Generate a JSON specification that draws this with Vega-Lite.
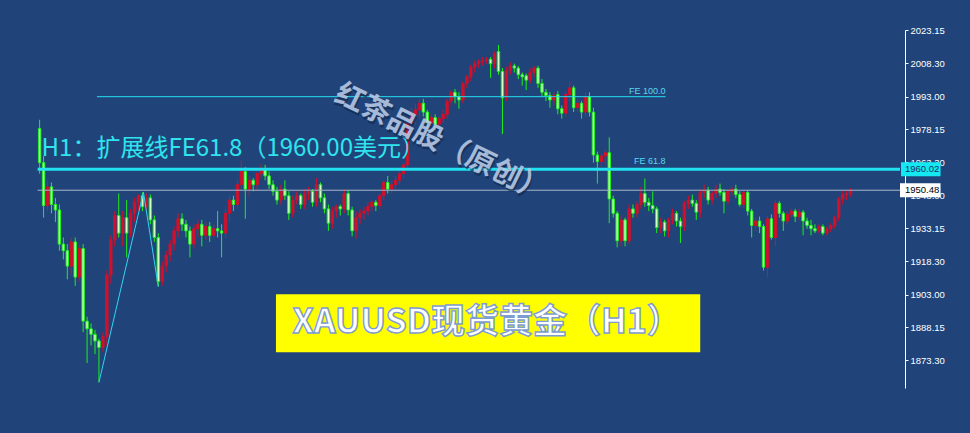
{
"$schema": "https://vega.github.io/schema/vega-lite/v6.json",
"width": 905, "height": 358,
"autosize": {"type": "none"},
"padding": {"left": 0, "top": 30, "right": 65, "bottom": 45},
"background": "#204479",
"config": {"view": {"stroke": null}, "font": "Liberation Sans"},
"datasets": {
"candles": [
{"i":0,"o":1978.5,"h":1982.5,"l":1958,"c":1963},
{"i":1,"o":1963,"h":1966,"l":1938,"c":1943.5},
{"i":2,"o":1943.5,"h":1955,"l":1941,"c":1952},
{"i":3,"o":1952,"h":1954,"l":1940,"c":1944},
{"i":4,"o":1944,"h":1947,"l":1936,"c":1941.5},
{"i":5,"o":1941.5,"h":1944,"l":1923,"c":1926},
{"i":6,"o":1926,"h":1929,"l":1919,"c":1923},
{"i":7,"o":1923,"h":1926,"l":1910,"c":1916},
{"i":8,"o":1916,"h":1929,"l":1912,"c":1927},
{"i":9,"o":1927,"h":1929,"l":1907,"c":1911},
{"i":10,"o":1911,"h":1926,"l":1909,"c":1924},
{"i":11,"o":1924,"h":1926,"l":1886,"c":1891},
{"i":12,"o":1891,"h":1893,"l":1872,"c":1887.5},
{"i":13,"o":1887.5,"h":1890,"l":1880,"c":1885},
{"i":14,"o":1885,"h":1887,"l":1876,"c":1882},
{"i":15,"o":1882,"h":1883,"l":1863.2,"c":1879},
{"i":16,"o":1879,"h":1886,"l":1877,"c":1884},
{"i":17,"o":1884,"h":1914,"l":1880,"c":1912},
{"i":18,"o":1912,"h":1930,"l":1908,"c":1928},
{"i":19,"o":1928,"h":1941,"l":1925,"c":1939},
{"i":20,"o":1939,"h":1949,"l":1929,"c":1931},
{"i":21,"o":1931,"h":1941,"l":1925,"c":1938},
{"i":22,"o":1938,"h":1946,"l":1920,"c":1931},
{"i":23,"o":1931,"h":1942,"l":1929,"c":1940},
{"i":24,"o":1940,"h":1947,"l":1936,"c":1945},
{"i":25,"o":1945,"h":1948.5,"l":1941,"c":1948},
{"i":26,"o":1948,"h":1949.5,"l":1941,"c":1943},
{"i":27,"o":1943,"h":1949,"l":1940,"c":1947},
{"i":28,"o":1947,"h":1948.5,"l":1935,"c":1937},
{"i":29,"o":1937,"h":1939,"l":1927,"c":1929},
{"i":30,"o":1929,"h":1931,"l":1906.7,"c":1909},
{"i":31,"o":1909,"h":1918,"l":1907,"c":1916},
{"i":32,"o":1916,"h":1923,"l":1913,"c":1921},
{"i":33,"o":1921,"h":1928,"l":1918,"c":1926},
{"i":34,"o":1926,"h":1934,"l":1923,"c":1932},
{"i":35,"o":1932,"h":1940,"l":1929,"c":1937.5},
{"i":36,"o":1937.5,"h":1940,"l":1932,"c":1935},
{"i":37,"o":1935,"h":1937,"l":1929,"c":1932},
{"i":38,"o":1932,"h":1934,"l":1920,"c":1926},
{"i":39,"o":1926,"h":1935,"l":1924,"c":1933},
{"i":40,"o":1933,"h":1937,"l":1929,"c":1935},
{"i":41,"o":1935,"h":1937,"l":1925,"c":1930},
{"i":42,"o":1930,"h":1936,"l":1928,"c":1934},
{"i":43,"o":1934,"h":1936,"l":1927,"c":1930},
{"i":44,"o":1930,"h":1935,"l":1929,"c":1933},
{"i":45,"o":1933,"h":1941,"l":1929,"c":1932},
{"i":46,"o":1932,"h":1935,"l":1920,"c":1931},
{"i":47,"o":1931,"h":1942,"l":1929,"c":1940},
{"i":48,"o":1940,"h":1948,"l":1936,"c":1946},
{"i":49,"o":1946,"h":1948,"l":1941,"c":1944},
{"i":50,"o":1944,"h":1955,"l":1942,"c":1953},
{"i":51,"o":1953,"h":1964,"l":1950,"c":1959},
{"i":52,"o":1959,"h":1961,"l":1937.5,"c":1951},
{"i":53,"o":1951,"h":1957,"l":1948,"c":1955},
{"i":54,"o":1955,"h":1956,"l":1950,"c":1953},
{"i":55,"o":1953,"h":1959,"l":1950,"c":1958},
{"i":56,"o":1958,"h":1962.5,"l":1956,"c":1960},
{"i":57,"o":1960,"h":1962,"l":1955,"c":1957},
{"i":58,"o":1957,"h":1959,"l":1951,"c":1953},
{"i":59,"o":1953,"h":1955,"l":1948,"c":1950},
{"i":60,"o":1950,"h":1952,"l":1944,"c":1946},
{"i":61,"o":1946,"h":1953,"l":1944,"c":1951},
{"i":62,"o":1951,"h":1955,"l":1946,"c":1948},
{"i":63,"o":1948,"h":1950,"l":1937,"c":1940},
{"i":64,"o":1940,"h":1948,"l":1938,"c":1946},
{"i":65,"o":1946,"h":1950,"l":1944,"c":1948},
{"i":66,"o":1948,"h":1949,"l":1942,"c":1944},
{"i":67,"o":1944,"h":1951,"l":1942,"c":1949},
{"i":68,"o":1949,"h":1952,"l":1946,"c":1950},
{"i":69,"o":1950,"h":1951,"l":1943,"c":1945},
{"i":70,"o":1945,"h":1956,"l":1943,"c":1953},
{"i":71,"o":1953,"h":1954,"l":1945,"c":1947},
{"i":72,"o":1947,"h":1949,"l":1940,"c":1942},
{"i":73,"o":1942,"h":1944,"l":1932,"c":1935.5},
{"i":74,"o":1935.5,"h":1943,"l":1933,"c":1941},
{"i":75,"o":1941,"h":1944,"l":1938,"c":1943},
{"i":76,"o":1943,"h":1944,"l":1939,"c":1942},
{"i":77,"o":1942,"h":1951,"l":1940,"c":1949},
{"i":78,"o":1949,"h":1950.5,"l":1939,"c":1941.5},
{"i":79,"o":1941.5,"h":1943,"l":1929.5,"c":1932},
{"i":80,"o":1932,"h":1941,"l":1928.5,"c":1938},
{"i":81,"o":1938,"h":1942,"l":1935,"c":1940},
{"i":82,"o":1940,"h":1943,"l":1937,"c":1941},
{"i":83,"o":1941,"h":1945,"l":1939,"c":1943},
{"i":84,"o":1943,"h":1946,"l":1941,"c":1945},
{"i":85,"o":1945,"h":1946,"l":1941,"c":1943.5},
{"i":86,"o":1943.5,"h":1949,"l":1942,"c":1948},
{"i":87,"o":1948,"h":1955,"l":1946,"c":1954},
{"i":88,"o":1954,"h":1957,"l":1949,"c":1951},
{"i":89,"o":1951,"h":1955,"l":1949,"c":1953},
{"i":90,"o":1953,"h":1957,"l":1951,"c":1955},
{"i":91,"o":1955,"h":1959.5,"l":1953,"c":1958},
{"i":92,"o":1958,"h":1963,"l":1956,"c":1962},
{"i":93,"o":1962,"h":1983,"l":1960,"c":1981},
{"i":94,"o":1981,"h":1988,"l":1976,"c":1985},
{"i":95,"o":1985,"h":1990,"l":1980,"c":1987},
{"i":96,"o":1987,"h":1992,"l":1983,"c":1990},
{"i":97,"o":1990,"h":1992,"l":1984,"c":1986},
{"i":98,"o":1986,"h":1987,"l":1979,"c":1981},
{"i":99,"o":1981,"h":1985,"l":1979,"c":1983.5},
{"i":100,"o":1983.5,"h":1985,"l":1978,"c":1980.5},
{"i":101,"o":1980.5,"h":1984,"l":1979,"c":1983},
{"i":102,"o":1983,"h":1987,"l":1981,"c":1985},
{"i":103,"o":1985,"h":1992,"l":1983,"c":1991},
{"i":104,"o":1991,"h":1996,"l":1989,"c":1995},
{"i":105,"o":1995,"h":1996.5,"l":1990,"c":1993},
{"i":106,"o":1993,"h":1995,"l":1987.5,"c":1991.5},
{"i":107,"o":1991.5,"h":2000,"l":1990,"c":1999},
{"i":108,"o":1999,"h":2003,"l":1997,"c":2002},
{"i":109,"o":2002,"h":2007.5,"l":2000,"c":2006.5},
{"i":110,"o":2006.5,"h":2009.5,"l":2004,"c":2008},
{"i":111,"o":2008,"h":2010,"l":2006,"c":2009},
{"i":112,"o":2009,"h":2011,"l":2007,"c":2009.5},
{"i":113,"o":2009.5,"h":2011,"l":2008,"c":2010},
{"i":114,"o":2010,"h":2011,"l":2001.5,"c":2008},
{"i":115,"o":2008,"h":2013.5,"l":2006,"c":2012.5},
{"i":116,"o":2013.5,"h":2016.5,"l":2003,"c":2004.5},
{"i":117,"o":2004.5,"h":2006,"l":1976,"c":1992.5},
{"i":118,"o":1992.5,"h":2006.5,"l":1991,"c":2005},
{"i":119,"o":2005,"h":2008.5,"l":2003,"c":2007},
{"i":120,"o":2007,"h":2008,"l":2004,"c":2006},
{"i":121,"o":2006,"h":2007,"l":2001,"c":2003},
{"i":122,"o":2003,"h":2004,"l":1998,"c":2002},
{"i":123,"o":2002.5,"h":2003.5,"l":1996,"c":2000.5},
{"i":124,"o":2000.5,"h":2006,"l":1999,"c":2004},
{"i":125,"o":2004,"h":2007,"l":2002,"c":2006},
{"i":126,"o":2006,"h":2007,"l":1997,"c":1999},
{"i":127,"o":1999,"h":2001,"l":1993,"c":1995},
{"i":128,"o":1995,"h":1996.5,"l":1991,"c":1993.5},
{"i":129,"o":1993.5,"h":1995,"l":1988,"c":1991.5},
{"i":130,"o":1991.5,"h":1995,"l":1989,"c":1993.5},
{"i":131,"o":1994,"h":1995.5,"l":1985,"c":1987.5},
{"i":132,"o":1987.5,"h":1989,"l":1983,"c":1985.5},
{"i":133,"o":1985.5,"h":1995,"l":1984,"c":1994},
{"i":134,"o":1994,"h":2000,"l":1991,"c":1997},
{"i":135,"o":1997,"h":1998,"l":1986,"c":1988},
{"i":136,"o":1988,"h":1992,"l":1986,"c":1990},
{"i":137,"o":1990,"h":1991,"l":1983,"c":1986},
{"i":138,"o":1986,"h":1995,"l":1984,"c":1993},
{"i":139,"o":1993,"h":1995,"l":1984,"c":1986},
{"i":140,"o":1986,"h":1988,"l":1963,"c":1966.5},
{"i":141,"o":1966.5,"h":1968,"l":1953.5,"c":1963.5},
{"i":142,"o":1963.5,"h":1967,"l":1961,"c":1966},
{"i":143,"o":1966,"h":1969,"l":1962,"c":1967.5},
{"i":144,"o":1967.5,"h":1974.5,"l":1935.5,"c":1946.5},
{"i":145,"o":1946.5,"h":1948,"l":1938,"c":1940},
{"i":146,"o":1940,"h":1941,"l":1924.5,"c":1927.5},
{"i":147,"o":1927.5,"h":1939,"l":1925,"c":1937},
{"i":148,"o":1937,"h":1938,"l":1925,"c":1927.5},
{"i":149,"o":1927.5,"h":1944,"l":1926,"c":1942},
{"i":150,"o":1942,"h":1944,"l":1938,"c":1940},
{"i":151,"o":1940,"h":1945.5,"l":1938,"c":1944},
{"i":152,"o":1944,"h":1952,"l":1942,"c":1949},
{"i":153,"o":1949,"h":1955.8,"l":1943,"c":1945},
{"i":154,"o":1945,"h":1947,"l":1941,"c":1943.5},
{"i":155,"o":1943.5,"h":1950,"l":1940,"c":1942},
{"i":156,"o":1942,"h":1943,"l":1931,"c":1933.5},
{"i":157,"o":1933.5,"h":1938,"l":1931,"c":1936},
{"i":158,"o":1936,"h":1937,"l":1929.5,"c":1932},
{"i":159,"o":1932,"h":1938,"l":1929,"c":1937},
{"i":160,"o":1937,"h":1942,"l":1935,"c":1940},
{"i":161,"o":1940,"h":1941,"l":1934,"c":1936.5},
{"i":162,"o":1936.5,"h":1938,"l":1926.5,"c":1934},
{"i":163,"o":1934,"h":1945.5,"l":1932,"c":1944.5},
{"i":164,"o":1944.5,"h":1948,"l":1942,"c":1946},
{"i":165,"o":1946,"h":1948.5,"l":1943,"c":1944.5},
{"i":166,"o":1944.5,"h":1946,"l":1937,"c":1940.5},
{"i":167,"o":1940.5,"h":1951,"l":1938,"c":1949.5},
{"i":168,"o":1949.5,"h":1953,"l":1947,"c":1950.5},
{"i":169,"o":1950.5,"h":1952,"l":1944,"c":1946},
{"i":170,"o":1946,"h":1950,"l":1944,"c":1949},
{"i":171,"o":1949,"h":1953,"l":1947,"c":1951},
{"i":172,"o":1951,"h":1953.5,"l":1948,"c":1949.5},
{"i":173,"o":1949.5,"h":1951,"l":1940,"c":1945.5},
{"i":174,"o":1945.5,"h":1951,"l":1944,"c":1950},
{"i":175,"o":1950,"h":1952,"l":1948,"c":1951},
{"i":176,"o":1951,"h":1953,"l":1947,"c":1948.5},
{"i":177,"o":1948.5,"h":1950,"l":1943,"c":1944},
{"i":178,"o":1944,"h":1950.5,"l":1942,"c":1949.5},
{"i":179,"o":1949.5,"h":1950.5,"l":1939,"c":1941},
{"i":180,"o":1941,"h":1942,"l":1929,"c":1934.5},
{"i":181,"o":1934.5,"h":1938,"l":1932,"c":1936.5},
{"i":182,"o":1936.5,"h":1938.5,"l":1931,"c":1934},
{"i":183,"o":1934,"h":1935,"l":1914,"c":1915.5},
{"i":184,"o":1915.5,"h":1939,"l":1911,"c":1937.5},
{"i":185,"o":1937.5,"h":1939.5,"l":1928,"c":1929},
{"i":186,"o":1929,"h":1946,"l":1925,"c":1944.5},
{"i":187,"o":1944.5,"h":1945.5,"l":1938,"c":1940},
{"i":188,"o":1940,"h":1941,"l":1932,"c":1936.5},
{"i":189,"o":1936.5,"h":1941,"l":1935,"c":1939.5},
{"i":190,"o":1939.5,"h":1942,"l":1938,"c":1941},
{"i":191,"o":1941,"h":1942,"l":1936,"c":1938.5},
{"i":192,"o":1938.5,"h":1942,"l":1937,"c":1940.5},
{"i":193,"o":1940.5,"h":1941.5,"l":1930,"c":1936.5},
{"i":194,"o":1936.5,"h":1938,"l":1933,"c":1934.5},
{"i":195,"o":1934.5,"h":1937,"l":1930,"c":1933},
{"i":196,"o":1933,"h":1935,"l":1931,"c":1932},
{"i":197,"o":1932,"h":1935,"l":1931,"c":1934},
{"i":198,"o":1934,"h":1935,"l":1930,"c":1931},
{"i":199,"o":1931,"h":1934,"l":1930,"c":1933},
{"i":200,"o":1933,"h":1935.5,"l":1931.5,"c":1934.5},
{"i":201,"o":1934.5,"h":1939,"l":1933,"c":1938},
{"i":202,"o":1938,"h":1947.5,"l":1936.5,"c":1946.5},
{"i":203,"o":1946.5,"h":1950,"l":1944,"c":1948.5},
{"i":204,"o":1948.5,"h":1950.5,"l":1946,"c":1949},
{"i":205,"o":1949,"h":1951.5,"l":1947.5,"c":1950.48}
],
"fe618": [{"x1": -0.5, "x2": 217.5, "p": 1960.02, "label": "FE 61.8", "lx": 158.25}],
"fe100": [{"x1": 14.5, "x2": 158.25, "p": 1993.0, "label": "FE 100.0", "lx": 158.25}],
"bid": [{"x1": -0.5, "x2": 217.5, "p": 1950.48}],
"fetool": [{"i": 15, "p": 1863.2}, {"i": 26.25, "p": 1949.53}, {"i": 30, "p": 1906.67}],
"note": [{"i": 0.5, "p": 1969.4, "t": "H1：扩展线FE61.8（1960.00美元）"}],
"mark": [{"i": 101.5, "p": 1972.0, "t": "红茶品股（原创）"}],
"box": [{"x1": 59.75, "x2": 167, "p1": 1903.2, "p2": 1876.9, "i": 113.0, "p": 1890.1, "t": "XAUUSD现货黄金（H1）"}],
"tagcyan": [{"x1": 217.75, "x2": 227.75, "p1": 1963.2, "p2": 1956.8, "i": 218.75, "p": 1960.02, "t": "1960.02"}],
"tagwhite": [{"x1": 217.5, "x2": 227.75, "p1": 1953.68, "p2": 1947.28, "i": 218.75, "p": 1950.48, "t": "1950.48"}]
},
"layer": [
{"data": {"name": "candles"}, "mark": {"type": "rule", "strokeWidth": 1},
 "encoding": {
  "x": {"field": "i", "type": "quantitative", "scale": {"domain": [-8.75, 217.5], "nice": false, "zero": false}, "axis": null},
  "y": {"field": "l", "type": "quantitative", "title": null, "scale": {"domain": [1860.6, 2023.3], "nice": false, "zero": false},
        "axis": {"orient": "right", "values": [2023.15, 2008.3, 1993.0, 1978.15, 1963.3, 1948.0, 1933.15, 1918.3, 1903.0, 1888.15, 1873.3], "tickCount": 40, "format": ".2f", "labelColor": "#ffffff", "labelFont": "Liberation Sans", "labelFontSize": 9.5, "domainColor": "#ffffff", "tickColor": "#ffffff", "tickSize": 3, "labelPadding": 2, "grid": false, "title": null, "labelOverlap": false, "labelBound": false, "labelFlush": false}},
  "y2": {"field": "h"},
  "color": {"condition": {"test": "datum.c < datum.o", "value": "#1cf01c"}, "value": "#d0102c"}
 }},
{"data": {"name": "candles"}, "mark": {"type": "bar", "width": 2.4, "strokeWidth": 1},
 "encoding": {
  "x": {"field": "i", "type": "quantitative", "scale": {"domain": [-8.75, 217.5], "nice": false, "zero": false}, "axis": null},
  "y": {"field": "o", "type": "quantitative", "title": null, "scale": {"domain": [1860.6, 2023.3], "nice": false, "zero": false}},
  "y2": {"field": "c"},
  "fill": {"condition": {"test": "datum.c < datum.o", "value": "#d4ffc6"}, "value": "#d0102c"},
  "stroke": {"condition": {"test": "datum.c < datum.o", "value": "#1cf01c"}, "value": "#d0102c"}
 }},
{"data": {"name": "bid"}, "mark": {"type": "rule", "strokeWidth": 1, "color": "#a9b4c8"},
 "encoding": {"x": {"field": "x1", "type": "quantitative"}, "x2": {"field": "x2"}, "y": {"field": "p", "type": "quantitative", "title": null}}},
{"data": {"name": "fe618"}, "mark": {"type": "rule", "strokeWidth": 3, "color": "#22e2f2"},
 "encoding": {"x": {"field": "x1", "type": "quantitative"}, "x2": {"field": "x2"}, "y": {"field": "p", "type": "quantitative", "title": null}}},
{"data": {"name": "fe100"}, "mark": {"type": "rule", "strokeWidth": 1, "color": "#22dcf0"},
 "encoding": {"x": {"field": "x1", "type": "quantitative"}, "x2": {"field": "x2"}, "y": {"field": "p", "type": "quantitative", "title": null}}},
{"data": {"name": "fetool"}, "mark": {"type": "line", "strokeWidth": 1, "color": "#30d4f4"},
 "encoding": {"x": {"field": "i", "type": "quantitative"}, "y": {"field": "p", "type": "quantitative", "title": null}}},
{"data": {"name": "fe618"}, "mark": {"type": "text", "align": "right", "baseline": "bottom", "dy": -3, "fontSize": 9, "font": "Liberation Sans", "color": "#5ad8f2"},
 "encoding": {"x": {"field": "lx", "type": "quantitative"}, "y": {"field": "p", "type": "quantitative", "title": null}, "text": {"field": "label"}}},
{"data": {"name": "fe100"}, "mark": {"type": "text", "align": "right", "baseline": "bottom", "dy": -1, "fontSize": 9, "font": "Liberation Sans", "color": "#5ad8f2"},
 "encoding": {"x": {"field": "lx", "type": "quantitative"}, "y": {"field": "p", "type": "quantitative", "title": null}, "text": {"field": "label"}}},
{"data": {"name": "note"}, "mark": {"type": "text", "align": "left", "baseline": "middle", "fontSize": 24, "font": "Noto Sans CJK SC", "color": "#2fe4ef"},
 "encoding": {"x": {"field": "i", "type": "quantitative"}, "y": {"field": "p", "type": "quantitative", "title": null}, "text": {"field": "t"}}},
{"data": {"name": "mark"}, "mark": {"type": "text", "align": "center", "baseline": "middle", "angle": 26, "dx": 2, "dy": 2, "fontSize": 29, "fontWeight": "bold", "font": "Noto Sans CJK SC", "color": "#10264a", "opacity": 0.6},
 "encoding": {"x": {"field": "i", "type": "quantitative"}, "y": {"field": "p", "type": "quantitative", "title": null}, "text": {"field": "t"}}},
{"data": {"name": "mark"}, "mark": {"type": "text", "align": "center", "baseline": "middle", "angle": 26, "fontSize": 29, "fontWeight": "bold", "font": "Noto Sans CJK SC", "color": "#b9cbe7", "opacity": 0.88},
 "encoding": {"x": {"field": "i", "type": "quantitative"}, "y": {"field": "p", "type": "quantitative", "title": null}, "text": {"field": "t"}}},
{"data": {"name": "box"}, "mark": {"type": "rect", "color": "#ffff00"},
 "encoding": {"x": {"field": "x1", "type": "quantitative"}, "x2": {"field": "x2"}, "y": {"field": "p1", "type": "quantitative", "title": null}, "y2": {"field": "p2"}}},
{"data": {"name": "box"}, "mark": {"type": "text", "align": "center", "baseline": "middle", "fontSize": 34, "fontWeight": "bold", "font": "Noto Sans CJK SC", "fill": "#ffffff", "stroke": "#7d9ccf", "strokeWidth": 1.4},
 "encoding": {"x": {"field": "i", "type": "quantitative"}, "y": {"field": "p", "type": "quantitative", "title": null}, "text": {"field": "t"}}},
{"data": {"name": "tagcyan"}, "mark": {"type": "rect", "color": "#14e8f2"},
 "encoding": {"x": {"field": "x1", "type": "quantitative"}, "x2": {"field": "x2"}, "y": {"field": "p1", "type": "quantitative", "title": null}, "y2": {"field": "p2"}}},
{"data": {"name": "tagcyan"}, "mark": {"type": "text", "align": "left", "baseline": "middle", "fontSize": 9.5, "font": "Liberation Sans", "color": "#173060"},
 "encoding": {"x": {"field": "i", "type": "quantitative"}, "y": {"field": "p", "type": "quantitative", "title": null}, "text": {"field": "t"}}},
{"data": {"name": "tagwhite"}, "mark": {"type": "rect", "color": "#ffffff"},
 "encoding": {"x": {"field": "x1", "type": "quantitative"}, "x2": {"field": "x2"}, "y": {"field": "p1", "type": "quantitative", "title": null}, "y2": {"field": "p2"}}},
{"data": {"name": "tagwhite"}, "mark": {"type": "text", "align": "left", "baseline": "middle", "fontSize": 9.5, "font": "Liberation Sans", "color": "#000000"},
 "encoding": {"x": {"field": "i", "type": "quantitative"}, "y": {"field": "p", "type": "quantitative", "title": null}, "text": {"field": "t"}}}
]
}
